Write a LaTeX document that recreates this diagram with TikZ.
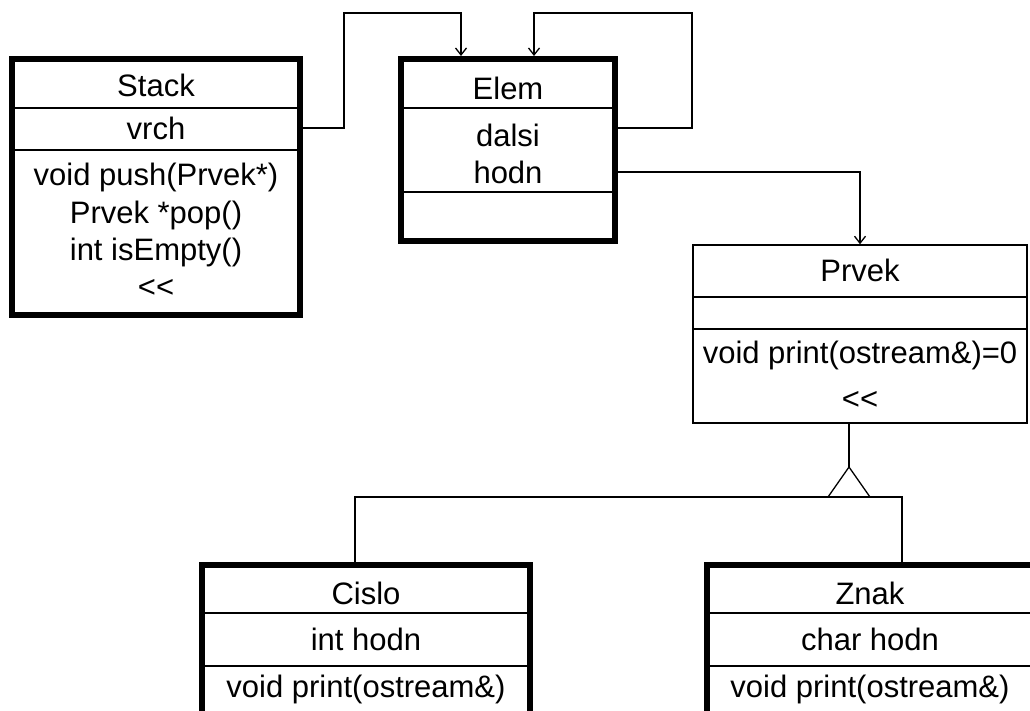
\documentclass[tikz,border=0pt]{standalone}
\usepackage{fontspec}
\setmainfont{Liberation Sans}
\usetikzlibrary{arrows.meta,calc}
\begin{document}
\begin{tikzpicture}[x=1pt,y=-1pt,
  txt/.style={font=\fontsize{31}{37}\selectfont, inner sep=0pt, anchor=base},
  heavy/.style={draw, line width=6pt, inner sep=0pt},
  light/.style={draw, line width=1.5pt, inner sep=0pt},
  divider/.style={line width=1.3pt},
  conn/.style={line width=1.3pt},
  arr/.style={conn, -{Straight Barb[length=7pt,width=11pt]}}
]
\useasboundingbox (0,0) rectangle (1030,710);
\clip (0,0) rectangle (1030,710);

% ---- Stack ----
\node[heavy, minimum width=288pt, minimum height=256pt] (stack) at (156,187) {};
\draw[divider] (stack.west |- 0,108) -- (stack.east |- 0,108);
\draw[divider] (stack.west |- 0,150) -- (stack.east |- 0,150);
\node[txt] (stackname) at (156,96) {Stack};
\node[txt] (vrch) at (156,139) {vrch};
\node[txt] (push) at (156,185) {void push(Prvek*)};
\node[txt] (pop) at (156,223) {Prvek *pop()};
\node[txt] (isempty) at (156,260) {int isEmpty()};
\node[txt] (stackout) at (156,297) {<{}<};

% ---- Elem ----
\node[heavy, minimum width=214pt, minimum height=182pt] (elem) at (508,150) {};
\draw[divider] (elem.west |- 0,108) -- (elem.east |- 0,108);
\draw[divider] (elem.west |- 0,192) -- (elem.east |- 0,192);
\node[txt] (elemname) at (508,99) {Elem};
\node[txt] (dalsi) at (508,146) {dalsi};
\node[txt] (elemhodn) at (508,183) {hodn};

% ---- Prvek ----
\node[light, minimum width=334pt, minimum height=178pt] (prvek) at (860,334) {};
\draw[divider] (prvek.west |- 0,297) -- (prvek.east |- 0,297);
\draw[divider] (prvek.west |- 0,329) -- (prvek.east |- 0,329);
\node[txt] (prvekname) at (860,281) {Prvek};
\node[txt] (prvekprint) at (860,363) {void print(ostream\&)=0};
\node[txt] (prvekout) at (860,409) {<{}<};

% ---- Cislo ----
\node[heavy, minimum width=328pt, minimum height=200pt] (cislo) at (366,665) {};
\draw[divider] (cislo.west |- 0,613) -- (cislo.east |- 0,613);
\draw[divider] (cislo.west |- 0,666) -- (cislo.east |- 0,666);
\node[txt] (cisloname) at (366,604) {Cislo};
\node[txt] (cislohodn) at (366,650) {int hodn};
\node[txt] (cisloprint) at (366,697) {void print(ostream\&)};

% ---- Znak ----
\node[heavy, minimum width=328pt, minimum height=200pt] (znak) at (871,665) {};
\draw[divider] (znak.west |- 0,613) -- (znak.east |- 0,613);
\draw[divider] (znak.west |- 0,666) -- (znak.east |- 0,666);
\node[txt] (znakname) at (870,604) {Znak};
\node[txt] (znakhodn) at (870,650) {char hodn};
\node[txt] (znakprint) at (870,697) {void print(ostream\&)};

% ---- connectors ----
\coordinate (k1) at (344,13);
\coordinate (k2) at (692,13);
\draw[arr] ([yshift=59pt]stack.east) -| (k1) -| ([xshift=-47pt]elem.north);
\draw[arr] ([yshift=22pt]elem.east) -| (k2) -| ([xshift=26pt]elem.north);
\draw[arr] ([yshift=-22pt]elem.east) -| (prvek.north);

% ---- inheritance ----
\coordinate (apex) at (849,467);
\coordinate (tri) at (849,497);
\draw[conn] ([xshift=-11pt]prvek.south) -- (apex);
\draw[conn, line join=miter] (apex) -- ++(-21,30) -- ++(42,0) -- cycle;
\draw[conn] ([xshift=-11pt]cislo.north) |- (tri) -| ([xshift=31pt]znak.north);
\end{tikzpicture}
\end{document}
